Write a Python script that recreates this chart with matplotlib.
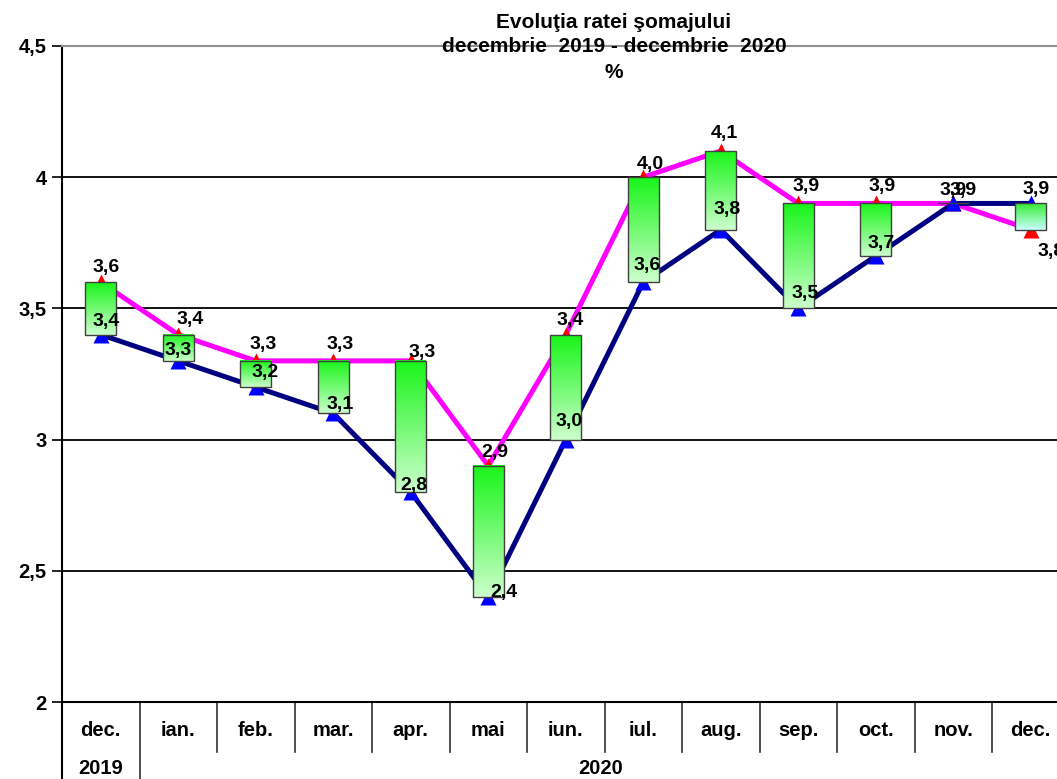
import numpy as np
import matplotlib
matplotlib.use('Agg')
import matplotlib.pyplot as plt
from matplotlib.patches import Rectangle
import matplotlib.transforms as mtransforms

plt.rcParams['font.family'] = ['Liberation Sans', 'DejaVu Sans']
plt.rcParams['font.weight'] = 'bold'

# date
months = ['dec.', 'ian.', 'feb.', 'mar.', 'apr.', 'mai', 'iun.', 'iul.',
          'aug.', 'sep.', 'oct.', 'nov.', 'dec.']
years = ['2019', '2020']
serie_roz = [3.6, 3.4, 3.3, 3.3, 3.3, 2.9, 3.4, 4.0, 4.1, 3.9, 3.9, 3.9, 3.8]
serie_bleu = [3.4, 3.3, 3.2, 3.1, 2.8, 2.4, 3.0, 3.6, 3.8, 3.5, 3.7, 3.9, 3.9]
y_ticks = [2, 2.5, 3, 3.5, 4, 4.5]

# deplasari etichete (pixeli)
dx_roz = [5, 12, 7, 7, 11, 7, 4, 7, 4, 8, 6, 0, 20]
dy_roz = [15, 15, 16, 16, 8, 13, 14, 13, 17, 17, 17, 13, -22]
dx_bleu = [5, 0, 9, 7, 3, 16, 3, 4, 6, 7, 5, 10, 5]
dy_bleu = [13, 10, 15, 9, 7, 5, 18, 17, 20, 15, 12, 13, 14]

W, H = 1057, 779
fig = plt.figure(figsize=(W / 100, H / 100), dpi=100)
ax = fig.add_axes([62 / W, 77 / H, 1007.5 / W, 656 / H])

x = np.arange(len(months))

# linii orizontale
for yv in y_ticks[1:-1]:
    ax.axhline(yv, color='black', lw=1.3, zorder=1)

# serii
ax.plot(x, serie_roz, color='#ff00ff', lw=3.6, zorder=2, solid_capstyle='round')
ax.plot(x, serie_bleu, color='#000080', lw=3.6, zorder=2, solid_capstyle='round')
ax.plot(x, serie_roz, ls='none', marker='^', ms=12, color='red', mec='none', zorder=2.5)
ax.plot(x, serie_bleu, ls='none', marker='^', ms=12, color='blue', mec='none', zorder=2.5)

# bare cu gradient
bw = 0.2
n = 64
t = np.linspace(0, 1, n)[:, None]
for i in range(len(months)):
    lo = min(serie_roz[i], serie_bleu[i])
    hi = max(serie_roz[i], serie_bleu[i])
    if serie_roz[i] >= serie_bleu[i]:
        c_top, c_bot = np.array([0.10, 0.96, 0.10]), np.array([0.80, 1.0, 0.80])
    else:
        c_top, c_bot = np.array([0.20, 0.93, 0.20]), np.array([0.80, 1.0, 1.0])
    grad = c_bot + (c_top - c_bot) * t
    img = grad[:, None, :].repeat(2, axis=1)
    ax.imshow(img, extent=(i - bw, i + bw, lo, hi), origin='lower',
              aspect='auto', zorder=3, interpolation='bilinear')
    ax.add_patch(Rectangle((i - bw, lo), 2 * bw, hi - lo, fill=False,
                           ec='#404040', lw=1.0, zorder=3.1))

# etichete
for i in range(len(months)):
    ax.annotate(f'{serie_roz[i]:.1f}'.replace('.', ','), (x[i], serie_roz[i]),
                xytext=(dx_roz[i], dy_roz[i]), textcoords='offset pixels',
                ha='center', va='center', fontsize=14, fontweight='bold',
                zorder=5, annotation_clip=False)
    ax.annotate(f'{serie_bleu[i]:.1f}'.replace('.', ','), (x[i], serie_bleu[i]),
                xytext=(dx_bleu[i], dy_bleu[i]), textcoords='offset pixels',
                ha='center', va='center', fontsize=14, fontweight='bold',
                zorder=5, annotation_clip=False)

ax.set_xlim(-0.5, len(months) - 0.5)
ax.set_ylim(2, 4.5)

# axa y
ax.set_yticks(y_ticks)
ax.set_yticklabels([f'{v:g}'.replace('.', ',') for v in y_ticks], fontsize=14.5, fontweight='bold')
ax.tick_params(axis='y', direction='out', length=7, width=1.2, pad=4)

# axa x pe doua niveluri
ax.set_xticks([])
ax.spines['right'].set_visible(False)
ax.spines['top'].set_color('#909090')
ax.spines['top'].set_linewidth(1.5)
ax.spines['bottom'].set_linewidth(1.5)
ax.spines['left'].set_linewidth(1.5)

trans = mtransforms.blended_transform_factory(ax.transData, ax.transAxes)
for i, m in enumerate(months):
    ax.text(i, -0.043, m, transform=trans, ha='center', va='center',
            fontsize=14.5, fontweight='bold')
for b in np.arange(0.5, len(months) - 0.5, 1.0):
    y_end = -0.12 if b == 0.5 else -0.076
    ax.plot([b, b], [0, y_end], transform=trans, color='#303030', lw=1.2, clip_on=False)
ax.plot([-0.5, -0.5], [0, -0.12], transform=trans, color='black', lw=1.5, clip_on=False)
ax.text(0, -0.101, years[0], transform=trans, ha='center', va='center',
        fontsize=14.5, fontweight='bold')
ax.text(6.45, -0.101, years[1], transform=trans, ha='center', va='center',
        fontsize=14.5, fontweight='bold')

# titlu
fig.text(614 / W, 1 - 22 / H, 'Evoluţia ratei şomajului', ha='center', va='center',
         fontsize=15, fontweight='bold')
fig.text(614 / W, 1 - 46 / H, 'decembrie  2019 - decembrie  2020', ha='center', va='center',
         fontsize=15, fontweight='bold')
fig.text(614 / W, 1 - 72 / H, '%', ha='center', va='center',
         fontsize=15, fontweight='bold')

plt.savefig('out.png', dpi=100)
